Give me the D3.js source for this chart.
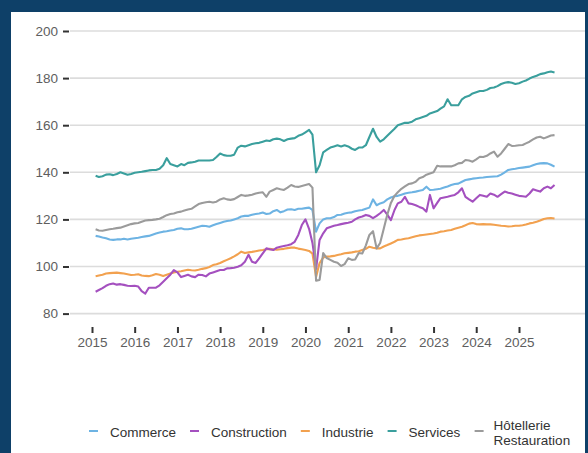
<!DOCTYPE html>
<html>
<head>
<meta charset="utf-8">
<script src="https://cdn.jsdelivr.net/npm/d3@7"></script>
<style>
html,body{margin:0;padding:0;background:#0e4068;}
svg{display:block;}
text{font-family:"Liberation Sans",Arial,Helvetica,sans-serif;}
</style>
</head>
<body>
<svg id="chart" width="588" height="453"></svg>
<script>
// ---- Data (monthly, Feb 2015 – Nov 2025) ----
const startMonth = "2015-02";
const monthCount = 130;
const yearTicks = [2015, 2016, 2017, 2018, 2019, 2020, 2021, 2022, 2023, 2024, 2025];
const yTicks = [80, 100, 120, 140, 160, 180, 200];
const seriesNames = ["Commerce", "Construction", "Industrie", "Services", "Hôtellerie\nRestauration"];

const commerce = [
  113, 112.7, 112.3, 112, 111.5, 111.3, 111.5, 111.5, 111.8, 111.5, 111.8,
  112, 112.2, 112.5, 112.8, 113, 113.5, 114, 114.4, 114.8, 115, 115.3, 115.5,
  116, 116.2, 115.8, 115.8, 116, 116.5, 116.9, 117.3, 117.2, 116.9, 117.5, 118,
  118.5, 119, 119.3, 119.5, 120, 120.5, 121.2, 121.5, 121.5, 122, 122.3, 122.5,
  122.9, 122.3, 122.5, 123.5, 124, 123, 123.5, 124.2, 124.3, 124, 124.5, 124.5,
  124.8, 125, 124, 114.8, 118.3, 120, 120.5, 120.5, 121, 121.9, 122, 122.5,
  122.8, 123, 123.5, 123.8, 124, 124.5, 125, 128.5, 126, 126.8, 127.3, 128.5,
  129.3, 129.8, 130, 130.5, 131, 131.3, 131.5, 131.8, 132.2, 132.5, 133.9, 132.5,
  132.6, 132.8, 133, 133.5, 134, 134.6, 135, 135.2, 136, 136.7, 137, 137.3,
  137.5, 137.7, 137.8, 138, 138.1, 138.2, 138.3, 139, 140, 141, 141.3, 141.5,
  141.8, 142, 142.2, 142.4, 143, 143.5, 143.8, 143.9, 143.8, 143.2, 142.4
];
const construction = [
  89.3, 90, 90.8, 91.8, 92.5, 92.8, 92.3, 92.5, 92.2, 91.8, 91.7,
  91.8, 91.5, 89.5, 88.5, 91, 91, 91, 92, 93.5, 95, 96.5, 98.5,
  97.5, 95.5, 96, 96.5, 95.8, 95.5, 96.5, 96.4, 95.8, 97, 97.5, 98,
  98.5, 98.5, 99.2, 99.3, 99.5, 99.9, 100.5, 102, 105, 102, 101.5, 103.5,
  105.6, 107.7, 107.3, 107, 108, 108.4, 108.7, 109, 109.5, 110.5, 113.4, 117.6,
  120, 116, 110, 99, 111.3, 114.1, 116.2, 116.8, 117.3, 117.6, 118, 118.3,
  118.6, 119, 120, 120.8, 121.2, 121.9, 121.5, 120.5, 121.5, 122.6, 124, 122,
  119.7, 124, 126.8, 127.5, 129.6, 126.8, 126.5, 126, 125.3, 124.7, 123.3, 130.4,
  124.7, 127, 129, 129.3, 129.6, 130, 130.4, 131.5, 133.2, 129.6, 128.5, 127.5,
  129, 130.4, 130, 129.6, 131, 130.5, 129.6, 130.7, 131.8, 131.3, 131, 130.5,
  130, 129.8, 129.6, 131, 132.8, 132.3, 131.8, 133.2, 133.9, 133.2, 134.6
];
const industrie = [
  95.9, 96.2, 96.5, 97, 97.2, 97.3, 97.4, 97.2, 97, 96.7, 96.4,
  96.5, 96.7, 96.2, 96, 95.9, 96.3, 96.8, 96.5, 96, 96.5, 97, 97.5,
  97.8, 98, 98.3, 98.6, 98.4, 98.3, 98.6, 99, 99.3, 99.8, 100.6, 101,
  101.5, 102.2, 102.8, 103.5, 104.3, 105.2, 106.3, 105.7, 106, 106.2, 106.5, 106.8,
  107, 107.3, 107.5, 107.3, 107.1, 107.3, 107.5, 107.8, 108, 108, 107.6, 107.3,
  107, 106.6, 105.5, 95.5, 101.5, 103.8, 104.2, 104.3, 104.5, 104.9, 105.2, 105.6,
  105.8, 106, 106.3, 106.5, 107, 107.5, 108.4, 108, 107.7, 107.7, 108.5, 109.1,
  109.8, 110.5, 111.3, 111.5, 111.8, 112, 112.4, 112.8, 113.2, 113.4, 113.6, 113.8,
  114, 114.3, 114.8, 115, 115.3, 115.5, 116, 116.5, 116.9, 117.5, 118.2, 118.5,
  118, 117.9, 118, 117.9, 117.9, 117.7, 117.5, 117.3, 117.2, 117, 117.1, 117.3,
  117.3, 117.5, 117.8, 118.3, 118.6, 119, 119.5, 120.2, 120.5, 120.6, 120.4
];
const services = [
  138.5, 138, 138.3, 139, 139.2, 138.8, 139.3, 140, 139.5, 139, 139.3,
  139.8, 140, 140.2, 140.5, 140.8, 141, 141, 141.5, 143, 146, 143.5, 143,
  142.5, 143.5, 143, 144, 144.2, 144.5, 145, 145, 145, 145, 145.2, 146.5,
  148, 147.3, 147, 147, 147.5, 150.5, 151.3, 151, 151.5, 152, 152.3, 152.5,
  153, 153.5, 153.3, 154, 154.3, 154, 153.3, 154, 154.3, 154.5, 155.5, 156,
  157, 158, 156, 140, 143, 148.5, 149.5, 150.5, 151, 151.5, 151, 151.5,
  151, 150, 149.5, 150.5, 150.5, 151.5, 155, 158.5, 155, 153, 154, 155.5,
  157, 158.5, 160, 160.5, 161, 161, 161.5, 162.5, 163, 163.5, 164, 165,
  165.5, 166, 167, 168, 171, 168.5, 168.5, 168.5, 171, 172, 172.5, 173.5,
  174, 174.5, 174.5, 175, 175.8, 176, 176.6, 177.5, 178, 178.3, 178, 177.5,
  177.8, 178.5, 179, 179.8, 180.5, 181, 181.7, 182, 182.5, 182.8, 182.4
];
const hotellerie = [
  115.8, 115.3, 115.2, 115.5, 115.8, 116, 116.3, 116.5, 117, 117.5, 118,
  118.3, 118.5, 119, 119.5, 119.7, 119.8, 120, 120.3, 121, 121.8, 122.3, 122.5,
  123, 123.3, 123.8, 124.2, 124.5, 125.5, 126.5, 127, 127.3, 127.5, 127.2, 127.5,
  128.5, 129, 128.5, 128.3, 128.6, 129.5, 130.4, 130, 130.2, 130.5, 131, 131.3,
  131.5, 129.6, 131.8, 132.5, 133.2, 132.8, 132.5, 133.5, 134.6, 134, 133.8, 134.2,
  134.6, 135, 133.5, 94, 94.3, 105.7, 103.6, 102.8, 102, 101.6, 100.2, 101,
  103.5, 102.8, 103, 105.7, 105.5, 109, 113.4, 115, 107.7, 110, 116, 122,
  127, 130, 131.5, 133, 134, 135, 135.3, 136, 137.5, 138, 139, 139.5,
  140, 142.8, 142.5, 142.5, 142.5, 142.5, 143, 143.8, 144, 145.2, 145, 144.5,
  145.5, 146.6, 146.5, 147, 148, 148.8, 146.6, 148, 150, 152, 151.2, 151.3,
  151.5, 151.6, 152.3, 153, 154, 154.8, 155.1, 154.4, 155, 155.6, 155.8
];
const seriesColors = ["#6db3e3", "#a450bf", "#f2a14f", "#3a9f9d", "#9b9b9b"];

// ---- Build ----
const svg = d3.select("#chart");
const W = 588, H = 453;

// white panel
svg.append("rect").attr("x", 11).attr("y", 12).attr("width", 574).attr("height", H - 12).attr("fill", "#ffffff");

const parse = d3.timeParse("%Y-%m");
const dates = d3.timeMonth.range(parse(startMonth), d3.timeMonth.offset(parse(startMonth), monthCount));

const x = d3.scaleTime()
  .domain([new Date(2015, 0, 1), new Date(2025, 0, 1)])
  .range([92, 519]);
const y = d3.scaleLinear().domain([80, 200]).range([313.6, 31]);

// gridlines
svg.append("g").selectAll("line").data(yTicks).join("line")
  .attr("x1", 70).attr("x2", 585)
  .attr("y1", d => y(d)).attr("y2", d => y(d))
  .attr("stroke", "#dcdcdc").attr("stroke-width", 1.6);

// y axis
const yAxis = svg.append("g").attr("transform", "translate(69,0)")
  .call(d3.axisLeft(y).tickValues(yTicks).tickSize(6).tickPadding(5));
yAxis.select(".domain").remove();
yAxis.selectAll(".tick line").attr("stroke", "#333").attr("stroke-width", 2);
yAxis.selectAll(".tick text").attr("fill", "#5e5e5e").attr("font-size", 13.5)
  .attr("font-family", "Liberation Sans, Arial, sans-serif");

// x axis
const xAxis = svg.append("g").attr("transform", "translate(0,327)")
  .call(d3.axisBottom(x).tickValues(yearTicks.map(v => new Date(v, 0, 1)))
    .tickFormat(d3.timeFormat("%Y")).tickSize(6).tickPadding(4));
xAxis.select(".domain").remove();
xAxis.selectAll(".tick line").attr("stroke", "#333").attr("stroke-width", 2);
xAxis.selectAll(".tick text").attr("fill", "#5e5e5e").attr("font-size", 13.5)
  .attr("font-family", "Liberation Sans, Arial, sans-serif");

// lines
const allSeries = [commerce, construction, industrie, services, hotellerie];
const line = d3.line().x((d, i) => x(dates[i])).y(d => y(d));
// draw order: industrie, construction, commerce, hotellerie, services
const order = [2, 1, 0, 4, 3];
svg.append("g").selectAll("path").data(order).join("path")
  .attr("d", k => line(allSeries[k]))
  .attr("fill", "none")
  .attr("stroke", k => seriesColors[k])
  .attr("stroke-width", 2.1)
  .attr("stroke-linejoin", "round");

// legend
const lg = svg.append("g");
let lx = 89;
seriesNames.forEach((name, k) => {
  const parts = name.split("\n");
  lg.append("line").attr("x1", lx).attr("x2", lx + 9).attr("y1", 431).attr("y2", 431)
    .attr("stroke", seriesColors[k]).attr("stroke-width", 2);
  const t = lg.append("text").attr("x", lx + 21).attr("fill", "#333").attr("font-size", 13.5);
  if (parts.length === 1) {
    t.attr("y", 436.5).text(name);
  } else {
    parts.forEach((p, j) => {
      t.append("tspan").attr("x", lx + 19).attr("y", 429.5 + j * 15).text(p);
    });
  }
  const w = t.node().getBBox().width;
  lx += 21 + w + 14;
});
</script>
</body>
</html>
